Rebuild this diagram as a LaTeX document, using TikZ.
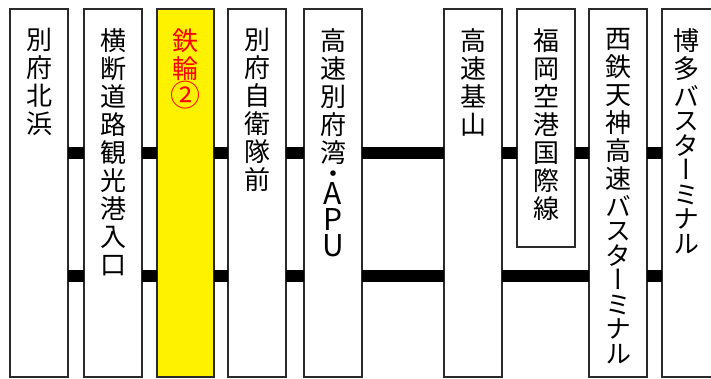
\documentclass[tikz,border=0pt]{standalone}
\usepackage{fontspec}
\newfontfamily\jp[RawFeature={+vert}]{Noto Sans CJK JP}
\definecolor{edge}{HTML}{2A2A2A}
\tikzset{
  stn/.style={draw=edge, line width=1.4pt, fill=white, anchor=north west, minimum width=58pt, minimum height=368pt, inner sep=0pt, outer sep=0pt},
  txt/.style={anchor=north, inner sep=0pt, align=center, font=\jp\fontsize{26}{28}\selectfont},
  bar/.style={line width=12pt, black, line cap=butt}
}
\newcommand\kn{\\[-3.5pt]}
\newcommand\bigch[1]{{\fontsize{30}{28}\selectfont #1}}
\begin{document}
\begin{tikzpicture}[x=1pt,y=-1pt]
\useasboundingbox (0,0) rectangle (711,379);
\clip (0,0) rectangle (711,379);
\fill[white] (0,0) rectangle (711,379);
\node[stn] (b1) at (10,9) {};
\node[stn] (b2) at (84,9) {};
\node[stn, fill=yellow, minimum width=57pt] (b3) at (157,9) {};
\node[stn] (b4) at (228,9) {};
\node[stn] (b5) at (304,9) {};
\node[stn] (b6) at (444,9) {};
\node[stn, minimum height=238pt] (b7) at (517,9) {};
\node[stn] (b8) at (589,9) {};
\node[stn, minimum width=70pt] (b9) at (662,9) {};
% upper line
\draw[bar] (b1.east |- 0,153) -- (b2.west |- 0,153);
\draw[bar] (b2.east |- 0,153) -- (b3.west |- 0,153);
\draw[bar] (b3.east |- 0,153) -- (b4.west |- 0,153);
\draw[bar] (b4.east |- 0,153) -- (b5.west |- 0,153);
\draw[bar] (b5.east |- 0,153) -- (b6.west |- 0,153);
\draw[bar] (b6.east |- 0,153) -- (b7.west |- 0,153);
\draw[bar] (b7.east |- 0,153) -- (b8.west |- 0,153);
\draw[bar] (b8.east |- 0,153) -- (b9.west |- 0,153);
% lower line
\draw[bar] (b1.east |- 0,276) -- (b2.west |- 0,276);
\draw[bar] (b2.east |- 0,276) -- (b3.west |- 0,276);
\draw[bar] (b3.east |- 0,276) -- (b4.west |- 0,276);
\draw[bar] (b4.east |- 0,276) -- (b5.west |- 0,276);
\draw[bar] (b5.east |- 0,276) -- (b6.west |- 0,276);
\draw[bar] (b6.east |- 0,276) -- (b8.west |- 0,276);
\draw[bar] (b8.east |- 0,276) -- (b9.west |- 0,276);
% labels
\node[txt] (t1) at ([yshift=-19pt]b1.north) {別\\府\\北\\浜};
\node[txt] (t2) at ([yshift=-19pt]b2.north) {横\\断\\道\\路\\観\\光\\港\\入\\口};
\node[txt, text=red] (t3) at ([yshift=-19pt]b3.north) {鉄\\輪\\\bigch{②}};
\node[txt] (t4) at ([yshift=-19pt]b4.north) {別\\府\\自\\衛\\隊\\前};
\node[txt] (t5) at ([yshift=-19pt]b5.north) {高\\速\\別\\府\\湾\\[-7pt]・\\[-7pt]\bigch{A}\\[-2pt]\bigch{P}\\[-2pt]\bigch{U}};
\node[txt] (t6) at ([yshift=-19pt]b6.north) {高\\速\\基\\山};
\node[txt] (t7) at ([yshift=-19pt]b7.north) {福\\岡\\空\\港\\国\\際\\線};
\node[txt] (t8) at ([yshift=-19pt]b8.north) {西\\鉄\\天\\神\\高\\速\\バ\kn ス\kn タ\kn ー\kn ミ\kn ナ\kn ル};
\node[txt] (t9) at ([yshift=-19pt]b9.north -| 686,0) {博\\多\\バ\kn ス\kn タ\kn ー\kn ミ\kn ナ\kn ル};
\end{tikzpicture}
\end{document}
